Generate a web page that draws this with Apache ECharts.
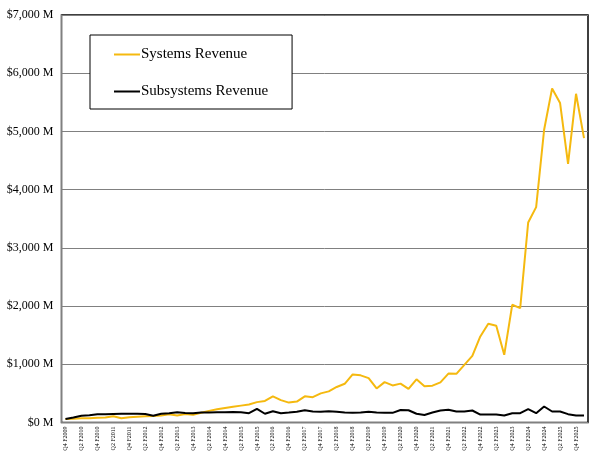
<!DOCTYPE html>
<html lang="en">
<head>
    <meta charset="UTF-8">
    <title>Revenue</title>
    <style>
        html, body, #chart {
            width: 100%;
            height: 100%;
            margin: 0;
            padding: 0;
            background: #fff;
        }
    </style>
    <script src="https://cdn.jsdelivr.net/npm/echarts@6/dist/echarts.min.js"></script>
</head>
<body>
    <div id="chart"></div>
    <script>
        // quarters Q4 F2009 .. Q1 F2026
        var quarters = [];
        for (var y = 2009; y <= 2026; y++) {
            for (var q = 1; q <= 4; q++) {
                if (y === 2009 && q < 4) continue;
                if (y === 2026 && q > 1) continue;
                quarters.push('Q' + q + ' F' + y);
            }
        }

        var yTicks = [0, 1000, 2000, 3000, 4000, 5000, 6000, 7000];

        // $M per quarter
        var systemsRevenue = [
            60, 65, 72, 75, 80, 85, 106, 72, 90, 100,
            106, 110, 120, 140, 120, 146, 134, 168, 200, 227,
            250, 270, 290, 310, 350, 371, 450, 385, 342, 360,
            450, 435, 500, 535, 610, 665, 825, 810, 762, 585,
            693, 637, 668, 577, 742, 622, 633, 690, 840, 836,
            991, 1145, 1478, 1695, 1661, 1163, 2022, 1964, 3436, 3700,
            5029, 5739, 5487, 4444, 5647, 4885
        ];

        var subsystemsRevenue = [
            60, 85, 117, 125, 140, 140, 145, 150, 150, 150,
            145, 117, 150, 160, 175, 165, 160, 170, 170, 175,
            175, 180, 175, 160, 235, 150, 194, 160, 171, 183,
            211, 189, 183, 194, 183, 171, 166, 171, 183, 171,
            166, 166, 215, 211, 150, 130, 171, 206, 218, 189,
            189, 206, 137, 137, 137, 120, 160, 160, 229, 160,
            275, 189, 189, 143, 120, 120
        ];

        var serif = "'Liberation Serif', 'DejaVu Serif', serif";

        var chart = echarts.init(document.getElementById('chart'));
        chart.setOption({
            animation: false,
            grid: {
                left: 61.5,
                right: 9,
                top: 15,
                bottom: 44.5,
                show: true,
                borderColor: '#000',
                borderWidth: 1.5
            },
            legend: {
                orient: 'vertical',
                left: 90,
                top: 35,
                padding: [12, 24, 10, 24],
                itemGap: 22,
                itemWidth: 26,
                itemHeight: 2,
                icon: 'rect',
                backgroundColor: '#fff',
                borderColor: '#000',
                borderWidth: 1,
                textStyle: { fontFamily: serif, fontSize: 15, color: '#000', padding: [0, 0, 0, -4] },
                data: ['Systems Revenue', 'Subsystems Revenue']
            },
            xAxis: {
                type: 'category',
                data: quarters,
                axisLine: { lineStyle: { color: '#808080', width: 1 } },
                axisTick: { show: false },
                axisLabel: {
                    interval: 1,
                    rotate: 90,
                    fontFamily: serif,
                    fontSize: 6,
                    color: '#000',
                    margin: 4
                }
            },
            yAxis: {
                type: 'value',
                min: yTicks[0],
                max: yTicks[yTicks.length - 1],
                interval: 1000,
                axisLine: { show: true, lineStyle: { color: '#808080', width: 1 } },
                splitLine: { lineStyle: { color: '#808080', width: 1 } },
                axisLabel: {
                    fontFamily: serif,
                    fontSize: 12,
                    color: '#000',
                    margin: 8,
                    formatter: function (v) {
                        return '$' + v.toLocaleString('en-US') + ' M';
                    }
                }
            },
            series: [{
                name: 'Systems Revenue',
                type: 'line',
                data: systemsRevenue,
                symbol: 'none',
                color: '#F5B90F',
                lineStyle: { width: 2, color: '#F5B90F' }
            }, {
                name: 'Subsystems Revenue',
                type: 'line',
                data: subsystemsRevenue,
                symbol: 'none',
                color: '#000',
                lineStyle: { width: 2, color: '#000' }
            }]
        });
    </script>
</body>
</html>
